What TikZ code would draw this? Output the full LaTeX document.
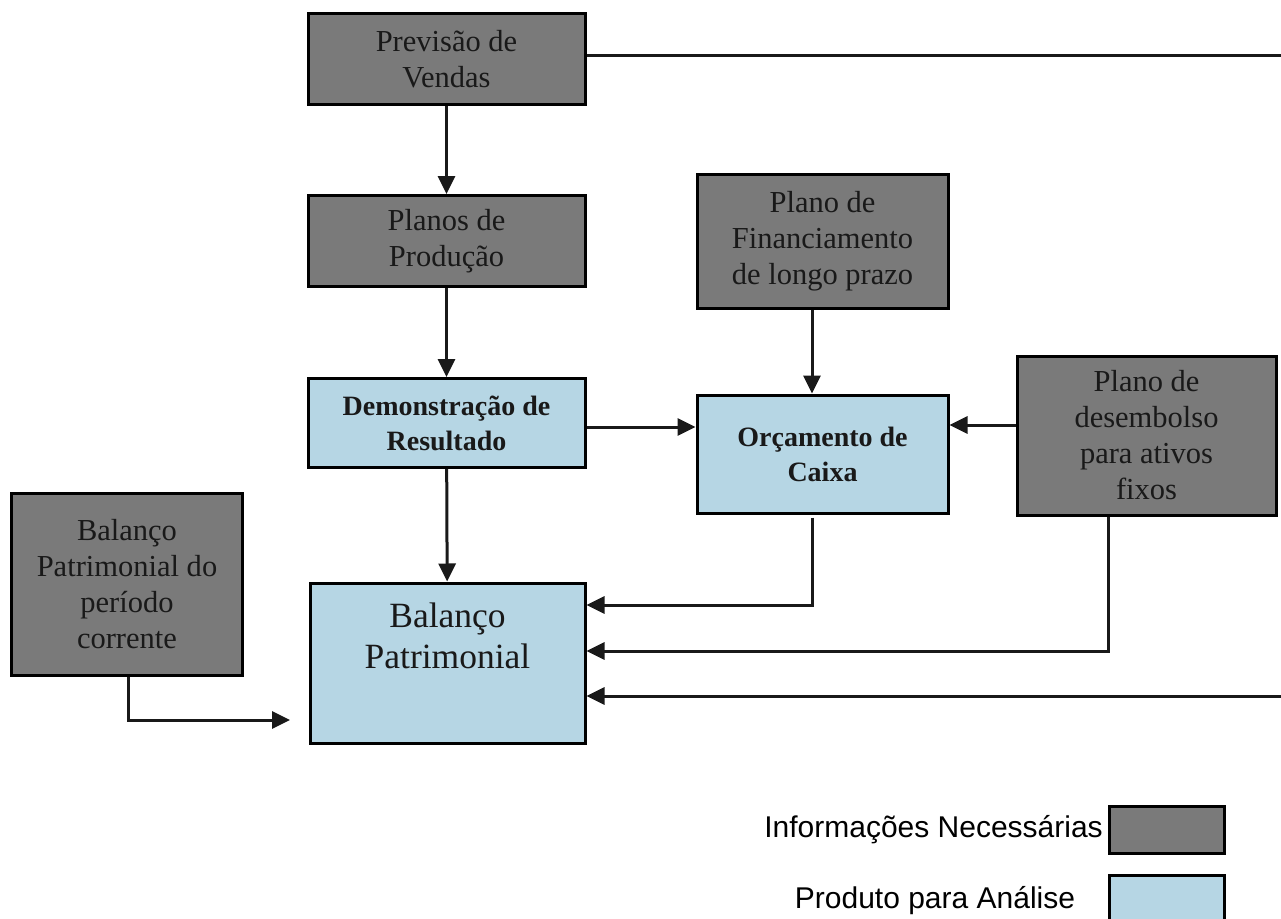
\documentclass[tikz,border=0pt]{standalone}
\usepackage{fontspec}
\setmainfont{Liberation Serif}
\newfontfamily\legendfont{Liberation Sans}
\usetikzlibrary{arrows.meta}
\definecolor{infogray}{RGB}{122,122,122}
\definecolor{prodblue}{RGB}{182,214,228}
\tikzset{
  box/.style={draw=black, line width=3bp, align=center, inner sep=0pt, text=black!90,
    font=\fontsize{30.5bp}{36bp}\selectfont},
  info/.style={box, fill=infogray},
  prod/.style={box, fill=prodblue, font=\fontsize{28bp}{35bp}\selectfont\bfseries},
  big/.style={box, fill=prodblue, font=\fontsize{35.5bp}{41bp}\selectfont},
  legbox/.style={draw=black, line width=3bp, minimum width=115bp, minimum height=47bp, inner sep=0pt},
  conn/.style={line width=3bp, draw=black!90},
  arr/.style={conn, -{Triangle[length=18bp,width=17bp]}},
  legtext/.style={font=\legendfont\fontsize{30bp}{34bp}\selectfont, inner sep=0pt}
}
\begin{document}
\begin{tikzpicture}[x=1bp,y=-1bp]
\useasboundingbox (0,0) rectangle (1281,919);
% boxes
\node[info, minimum width=277bp, minimum height=91bp] (prev) at (446.5,59) {Previsão de\\Vendas};
\node[info, minimum width=277bp, minimum height=91bp] (plan) at (446.5,241) {Planos de\\Produção};
\node[info, minimum width=251bp, minimum height=134bp] (fin) at (822.5,241) {Plano de\\Financiamento\\de longo prazo};
\node[prod, minimum width=277bp, minimum height=89bp] (dem) at (446.5,423) {Demonstração de\\Resultado};
\node[prod, minimum width=251bp, minimum height=118bp] (orc) at (822.5,454) {Orçamento de\\Caixa};
\node[info, minimum width=259bp, minimum height=159bp] (des) at (1146.5,435.5) {Plano de\\desembolso\\para ativos\\fixos};
\node[info, minimum width=230bp, minimum height=182bp] (bpc) at (127,584) {Balanço\\Patrimonial do\\período\\corrente};
\node[big, minimum width=275bp, minimum height=160bp] (bp) at (447.5,663)
  {\raisebox{36bp}[0pt][0pt]{\begin{tabular}[t]{@{}c@{}}Balanço\\Patrimonial\end{tabular}}};
% free ends
\coordinate (edgeTop) at (1281,55);
\coordinate (edgeBot) at (1281,696);
\coordinate (bpcEnd) at (290,720);
% connectors
\draw[arr] (prev) -- (plan);
\draw[arr] (plan) -- (dem);
\draw[arr] (dem) -- (bp);
\draw[conn] (prev.east |- edgeTop) -- (edgeTop);
\draw[arr] (edgeBot) -- (bp.east |- edgeBot);
\draw[arr] (dem.east |- 0,427) -- (orc.west |- 0,427);
\draw[arr] (des.west |- 0,425) -- (orc.east |- 0,425);
\draw[arr] (fin.south -| 812,0) -- (orc.north -| 812,0);
\draw[arr] ([yshift=-3bp]orc.south -| 812,0) -- (812,605) -- (bp.east |- 0,605);
\draw[arr] (des.south -| 1108,0) -- (1108,651) -- (bp.east |- 0,651);
\draw[arr] (bpc.south -| 128,0) -- (128,720) -- (bpcEnd);
% legend
\node[legbox, fill=infogray] (leg1) at (1166.5,829.5) {};
\node[legbox, fill=prodblue] (leg2) at (1166.5,899) {};
\node[legtext, anchor=base east] (leg1t) at (1103,837) {Informações Necessárias};
\node[legtext, anchor=base] (leg2t) at (935,908) {Produto para Análise};
\end{tikzpicture}
\end{document}
